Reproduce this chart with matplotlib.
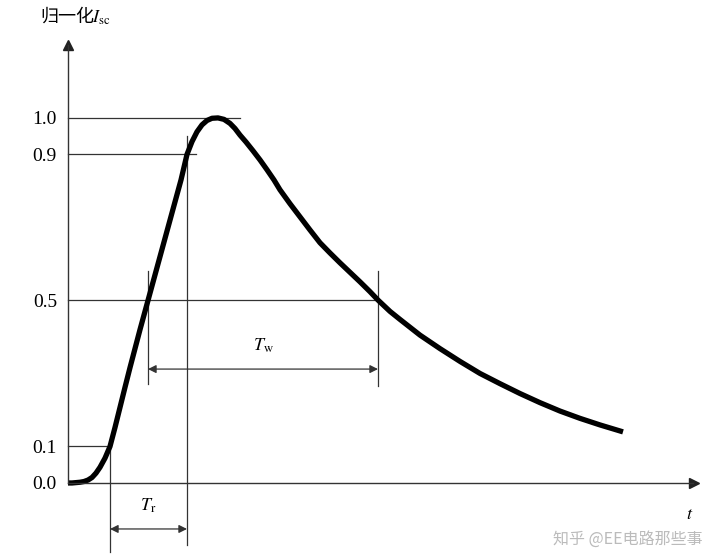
import matplotlib.pyplot as plt

plt.rcParams['font.family'] = ['Liberation Serif', 'Noto Sans CJK SC', 'DejaVu Sans']

# normalized short-circuit current pulse (t in arbitrary units)
t = [0.0, 0.4, 0.8, 1.2, 1.6, 2.0, 2.4, 2.8, 3.2, 3.7, 4.2, 4.7, 5.2, 5.7,
     6.2, 6.7, 7.2, 7.6, 8.0, 8.7, 9.4, 10.1, 10.7, 11.3, 11.9, 12.4, 12.9,
     13.4, 13.9, 14.4, 15.0, 15.6, 16.2, 16.7, 17.2, 17.8, 18.5, 19.2, 19.9,
     20.6, 21.2, 22.2, 23.2, 24.2, 25.2, 26.2, 27.2, 28.2, 29.2, 30.2, 31.0,
     32.2, 33.2, 35.2, 37.2, 39.2, 41.2, 43.2, 45.2, 47.2, 49.2, 51.2, 53.2,
     55.5]
isc = [0.0, 0.0, 0.001, 0.002, 0.004, 0.008, 0.015, 0.027, 0.043, 0.068,
       0.10, 0.152, 0.207, 0.262, 0.316, 0.368, 0.42, 0.46, 0.50, 0.57, 0.64,
       0.71, 0.77, 0.83, 0.90, 0.935, 0.962, 0.981, 0.993, 0.999, 1.0, 0.996,
       0.985, 0.971, 0.953, 0.934, 0.91, 0.885, 0.858, 0.83, 0.803, 0.765,
       0.729, 0.693, 0.658, 0.63, 0.603, 0.577, 0.551, 0.524, 0.501, 0.47,
       0.448, 0.405, 0.368, 0.333, 0.30, 0.272, 0.245, 0.22, 0.197, 0.177,
       0.159, 0.14]

# characteristic points
t10, t50, t90, t50b = 4.2, 8.0, 11.9, 31.0
yticks = [0.0, 0.1, 0.5, 0.9, 1.0]
ytick_labels = ['0.0', '0.1', '0.5', '0.9', '1.0']

fig = plt.figure(figsize=(7.2, 5.6), dpi=100)
ax = fig.add_axes([0, 0, 1, 1])
ax.set_xlim(-6.8, 65.2)
ax.set_ylim(-0.211, 1.323)

for s in ['top', 'right']:
    ax.spines[s].set_visible(False)
ax.spines['left'].set_position(('data', 0))
ax.spines['bottom'].set_position(('data', 0))
ax.spines['left'].set_bounds(0, 1.2)
ax.spines['bottom'].set_bounds(0, 62.5)
for s in ['left', 'bottom']:
    ax.spines[s].set_linewidth(1.0)
    ax.spines[s].set_color('#333333')
ax.plot(0, 1.2, marker='^', color='#222222', ms=7, clip_on=False)
ax.plot(62.6, 0, marker='>', color='#222222', ms=7, clip_on=False)

ax.set_xticks([])
ax.set_yticks(yticks)
ax.set_yticklabels(ytick_labels, fontsize=14)
ax.tick_params(axis='y', length=0, pad=8)

lc = '#333333'
lw = 0.9
# horizontal reference lines
ax.plot([0, 17.2], [1.0, 1.0], color=lc, lw=lw)
ax.plot([0, 12.8], [0.9, 0.9], color=lc, lw=lw)
ax.plot([0, t50b], [0.5, 0.5], color=lc, lw=lw)
ax.plot([0, t10], [0.1, 0.1], color=lc, lw=lw)
# vertical reference lines
ax.plot([t10, t10], [0.1, -0.19], color=lc, lw=lw)
ax.plot([t90, t90], [0.95, -0.17], color=lc, lw=lw)
ax.plot([t50, t50], [0.58, 0.27], color=lc, lw=lw)
ax.plot([t50b, t50b], [0.58, 0.265], color=lc, lw=lw)

# dimension arrows
arr = dict(arrowstyle='<|-|>', color=lc, lw=lw, mutation_scale=12, shrinkA=0, shrinkB=0)
ax.annotate('', xy=(t50, 0.312), xytext=(t50b, 0.312), arrowprops=arr)
ax.annotate('', xy=(t10, -0.126), xytext=(t90, -0.126), arrowprops=arr)
ax.text((t50 + t50b) / 2, 0.35, r'$T_{\rm w}$', fontsize=13, ha='center', va='bottom',
        math_fontfamily='stix')
ax.text((t10 + t90) / 2, -0.088, r'$T_{\rm r}$', fontsize=13, ha='center', va='bottom',
        math_fontfamily='stix')

# pulse
ax.plot(t, isc, color='black', lw=3.8, solid_capstyle='butt', solid_joinstyle='round')

ax.text(62.2, -0.085, r'$t$', fontsize=13, ha='center', va='center', math_fontfamily='stix')
ax.text(-2.8, 1.278, '归一化', fontsize=13, ha='left', va='center',
        family=['Noto Sans CJK SC', 'DejaVu Sans'])
ax.text(2.4, 1.273, r'$I_{\rm sc}$', fontsize=13, ha='left', va='center',
        math_fontfamily='stix')

ax.text(56.0, -0.155, '知乎 @EE电路那些事', fontsize=11.5, color='#bbbbbb',
        ha='center', va='center', family=['Noto Sans CJK SC', 'DejaVu Sans'])

fig.savefig('out.png', dpi=100)
